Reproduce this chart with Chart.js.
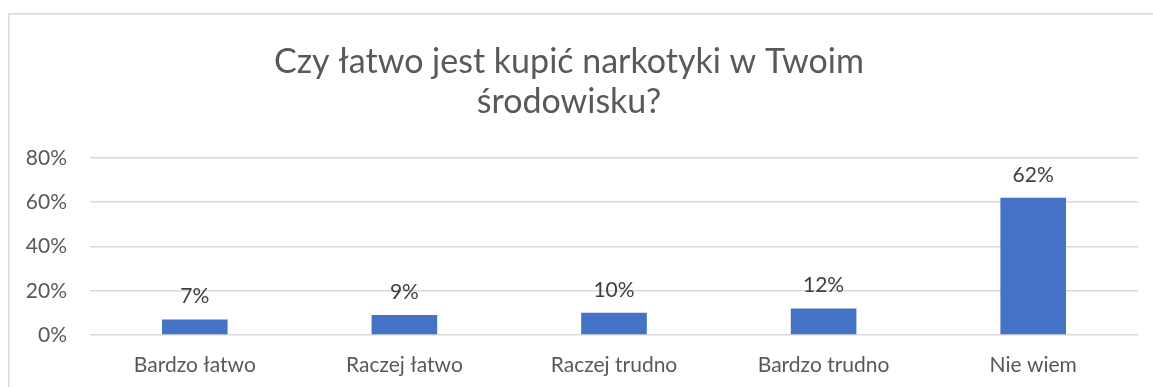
<!DOCTYPE html>
<html>
<head>
<meta charset="utf-8">
<script src="https://cdn.jsdelivr.net/npm/chart.js@4"></script>
<style>
  html, body { margin: 0; padding: 0; background: #ffffff; }
  #wrap { width: 1153px; height: 387px; position: relative; }
</style>
</head>
<body>
<div id="wrap"><canvas id="c" width="1153" height="387"></canvas></div>
<script>
const titleLines = ["Czy łatwo jest kupić narkotyki w Twoim", "środowisku?"];
const categories = ["Bardzo łatwo", "Raczej łatwo", "Raczej trudno", "Bardzo trudno", "Nie wiem"];
const values = [7, 9, 10, 12, 62];
const yTicks = [0, 20, 40, 60, 80];

const FONT = "Lato, 'Noto Sans', sans-serif";
const TEXT = "#595959";

const borderPlugin = {
  id: 'outerBorder',
  beforeDraw(chart) {
    const ctx = chart.ctx;
    ctx.save();
    ctx.fillStyle = '#ffffff';
    ctx.fillRect(0, 0, chart.width, chart.height);
    ctx.strokeStyle = '#d9d9d9';
    ctx.lineWidth = 1.5;
    ctx.strokeRect(8.75, 13.75, chart.width + 20, chart.height + 20);
    ctx.restore();
  }
};

const labelPlugin = {
  id: 'dataLabels',
  afterDatasetsDraw(chart) {
    const ctx = chart.ctx;
    const meta = chart.getDatasetMeta(0);
    ctx.save();
    ctx.font = "21px " + FONT;
    ctx.fillStyle = "#404040";
    ctx.textAlign = 'center';
    ctx.textBaseline = 'middle';
    meta.data.forEach((bar, i) => {
      ctx.fillText(values[i] + '%', bar.x, bar.y - 23);
    });
    ctx.restore();
  }
};

new Chart(document.getElementById('c'), {
  type: 'bar',
  data: {
    labels: categories,
    datasets: [{
      data: values,
      backgroundColor: '#4472C4',
      borderWidth: 0,
      categoryPercentage: 1.0,
      barPercentage: 0.313
    }]
  },
  options: {
    responsive: false,
    animation: false,
    devicePixelRatio: 1,
    layout: { padding: { left: 0, right: 15, top: 0, bottom: 0 } },
    plugins: {
      legend: { display: false },
      tooltip: { enabled: false },
      title: {
        display: true,
        text: titleLines,
        color: TEXT,
        font: { family: FONT, size: 34, weight: 'normal', lineHeight: 1.176 },
        padding: { top: 42, bottom: 36 }
      }
    },
    scales: {
      x: {
        grid: { display: false, drawTicks: false },
        border: { display: false },
        ticks: { color: TEXT, font: { family: FONT, size: 21 }, padding: 18 },
        afterFit(s) { s.height = 52; }
      },
      y: {
        min: 0, max: 80,
        afterBuildTicks(s) { s.ticks = yTicks.map(v => ({ value: v })); },
        grid: { color: '#d9d9d9', lineWidth: 1.5, drawTicks: false },
        border: { display: false },
        ticks: { color: TEXT, font: { family: FONT, size: 21 }, padding: 23,
                 callback: v => v + '%' },
        afterFit(s) { s.width = 90; }
      }
    }
  },
  plugins: [borderPlugin, labelPlugin]
});
</script>
</body>
</html>
